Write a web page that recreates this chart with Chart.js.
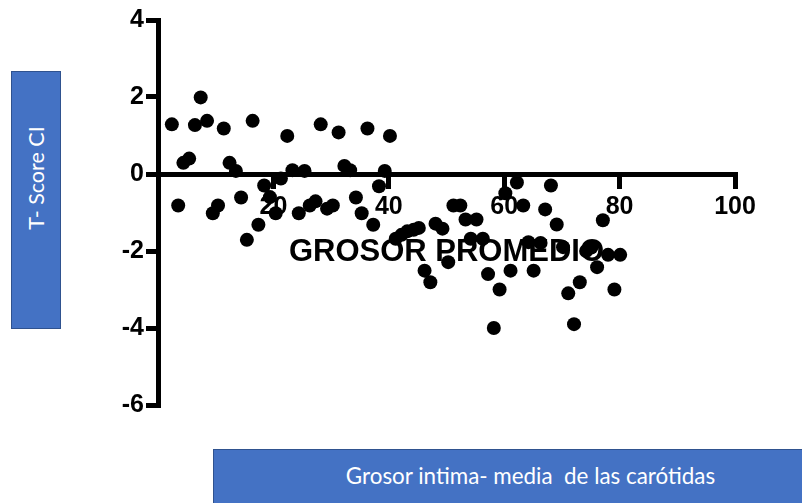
<!DOCTYPE html>
<html>
<head>
<meta charset="utf-8">
<script src="https://cdn.jsdelivr.net/npm/chart.js@4.4.0/dist/chart.umd.min.js"></script>
<style>
  html, body { margin: 0; padding: 0; background: #fff; }
  #wrap { position: relative; width: 802px; height: 503px; overflow: hidden; }
  #c { position: absolute; left: 0; top: 0; }
  .box { position: absolute; background: #4472C4; border: 1.5px solid #2F528F; box-sizing: border-box; color: #fff; font-family: Lato, "Open Sans", sans-serif; }
  #ybox { left: 11px; top: 71px; width: 50px; height: 258px; }
  #ybox span { position: absolute; left: 50%; top: 106px; transform: translate(-50%, -50%) rotate(-90deg); white-space: nowrap; font-size: 21.5px; }
  #xbox { left: 213px; top: 449px; width: 595px; height: 60px; }
  #xbox span { position: absolute; left: 22px; width: 589px; top: 25px; transform: translateY(-50%); text-align: center; white-space: pre; font-size: 22.4px; }
</style>
</head>
<body>
<div id="wrap">
  <canvas id="c" width="802" height="503"></canvas>
  <div class="box" id="ybox"><span>T- Score CI</span></div>
  <div class="box" id="xbox"><span>Grosor intima- media  de las carótidas</span></div>
</div>
<script>
const xValues = [2.4,3.5,4.4,5.4,6.4,7.4,8.5,9.5,10.4,11.4,12.4,13.5,14.4,15.4,16.4,17.4,18.4,19.4,20.4,21.3,22.4,23.3,24.4,25.4,26.3,27.3,28.2,29.3,30.3,31.3,32.3,33.3,34.3,35.3,36.3,37.3,38.3,39.3,40.2,
  41.2,42.2,43.2,44.3,45.2,46.2,47.2,48.1,49.3,50.3,51.2,52.4,53.3,54.2,55.2,56.3,57.2,58.2,59.2,60.2,61.1,62.2,63.3,64.2,65.1,66.3,67.1,68.1,69.1,70.2,71.1,72.1,73.1,74.2,75.1,76.1,77.1,78.0,79.1,80.1];
const yValues = [1.29,-0.82,0.29,0.40,1.27,1.99,1.38,-1.02,-0.82,1.18,0.29,0.08,-0.61,-1.71,1.38,-1.32,-0.30,-0.60,-1.02,-0.12,0.99,0.10,-1.02,0.08,-0.82,-0.71,1.29,-0.90,-0.82,1.08,0.21,0.10,-0.61,-1.02,1.18,-1.32,-0.32,0.08,0.99,
  -1.68,-1.58,-1.49,-1.45,-1.40,-2.51,-2.81,-1.29,-1.42,-2.29,-0.82,-0.82,-1.18,-1.68,-1.18,-1.68,-2.60,-4.00,-3.00,-0.50,-2.51,-0.22,-0.82,-1.77,-2.51,-1.79,-0.92,-0.30,-1.31,-1.90,-3.10,-3.90,-2.81,-2.00,-1.91,-2.42,-1.20,-2.10,-3.00,-2.10];
const xTicks = [0, 20, 40, 60, 80, 100];
const yTicks = [-6, -4, -2, 0, 2, 4];
const xTitle = 'GROSOR PROMEDIO';

const points = xValues.map((x, i) => ({x: x, y: yValues[i]}));
const tickFont = {family: "'Liberation Sans', Arial, sans-serif", size: 25, weight: 'bold'};

new Chart(document.getElementById('c'), {
  type: 'scatter',
  data: { datasets: [{ data: points, backgroundColor: '#000', borderWidth: 0, pointRadius: 7, pointHoverRadius: 7 }] },
  options: {
    responsive: false,
    animation: false,
    events: [],
    layout: { padding: { left: 0, top: 20, right: 67, bottom: 98 } },
    plugins: { legend: { display: false }, tooltip: { enabled: false } },
    scales: {
      x: {
        type: 'linear',
        position: { y: 0 },
        min: 0, max: 100,
        afterBuildTicks: s => { s.ticks = xTicks.map(v => ({value: v})); },
        ticks: { color: '#000', font: tickFont, padding: 6, maxRotation: 0, callback: v => v === 0 ? '' : String(v) },
        grid: { drawOnChartArea: false, drawTicks: true, tickLength: 12, lineWidth: 5, color: c => (c.tick && c.tick.value === 0) ? 'rgba(0,0,0,0)' : '#000' },
        border: { display: true, color: '#000', width: 5 },
        title: { display: true, text: xTitle, color: '#000', font: {family: "'Liberation Sans', Arial, sans-serif", size: 31, weight: 'bold'}, padding: {top: 6, bottom: 0} }
      },
      y: {
        min: -6, max: 4,
        afterBuildTicks: s => { s.ticks = yTicks.map(v => ({value: v})); },
        afterFit: s => { s.width = 158; },
        ticks: { color: '#000', font: tickFont, padding: 2, callback: v => String(v) },
        grid: { drawOnChartArea: false, drawTicks: true, tickLength: 12, lineWidth: 5, color: '#000' },
        border: { display: true, color: '#000', width: 5 }
      }
    }
  }
});
</script>
</body>
</html>
